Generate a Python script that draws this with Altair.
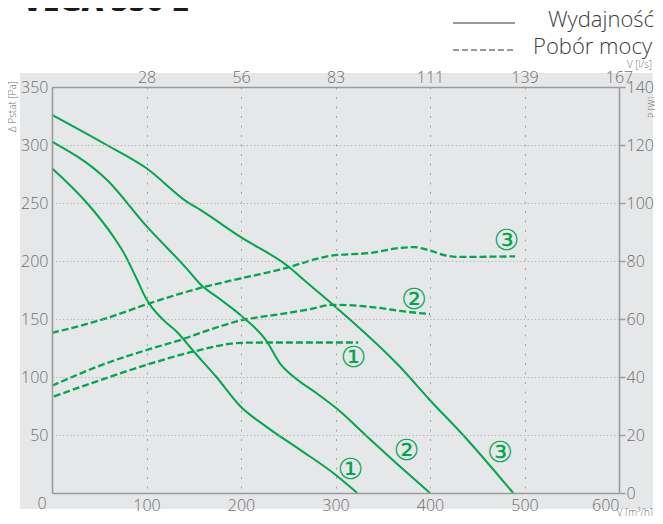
import altair as alt
import pandas as pd

# ---- data ----
# Solid curves: static pressure [Pa] vs airflow [m3/h]
s1_flow = [0, 37, 65, 76, 90, 100, 104, 118, 132, 150, 174, 199, 227, 263, 298, 323]
s1_pst = [280, 250, 221, 207, 184, 167, 162, 149, 139, 122, 100, 75, 57, 37, 17, 0]
s2_flow = [0, 58, 100, 143, 157, 178, 200, 227, 241, 259, 280, 301, 333, 368, 400]
s2_pst = [303, 270, 230, 193, 180, 167, 153, 131, 112, 98, 86, 73, 49, 23, 0]
s3_flow = [0, 58, 100, 143, 157, 199, 252, 266, 295, 368, 400, 435, 488]
s3_pst = [326, 300, 280, 251, 244, 221, 194, 184, 164, 109, 80, 50, 0]
# Dashed curves: power [W] vs airflow [m3/h]
d1_flow = [2, 58, 104, 150, 200, 227, 324]
d1_p = [33.3, 39.7, 44.6, 48.8, 51.8, 51.9, 51.9]
d2_flow = [0, 58, 104, 139, 157, 200, 248, 270, 298, 347, 368, 400]
d2_p = [37, 44.8, 49.7, 53.1, 55.2, 59.5, 62, 63.2, 64.9, 63.8, 62.8, 61.7]
d3_flow = [0, 58, 104, 157, 200, 241, 295, 337, 368, 383, 397, 418, 428, 490]
d3_p = [55.2, 60.3, 65.5, 70.7, 74, 77, 81.8, 82.8, 84.5, 84.8, 83.9, 81.8, 81.4, 81.6]
# Curve labels (placed in Pa coordinates)
lbl_text = ["①", "②", "③", "①", "②", "③"]
lbl_flow = [316, 375, 474, 319, 383, 481]
lbl_pst = [20, 36, 34.5, 116.5, 166.6, 217]
# Axis ticks
x_ticks = [100, 200, 300, 400, 500, 600]
yl_ticks = [50, 100, 150, 200, 250, 300, 350]
yr_ticks = [0, 20, 40, 60, 80, 100, 120, 140]

GREEN = "#00a651"
GRAY = "#9b9b9b"
LBL = "#6e6e6e"
FONT = "Open Sans"

solid = pd.DataFrame(
    [{"flow": f, "pst": p, "curve": "1"} for f, p in zip(s1_flow, s1_pst)]
    + [{"flow": f, "pst": p, "curve": "2"} for f, p in zip(s2_flow, s2_pst)]
    + [{"flow": f, "pst": p, "curve": "3"} for f, p in zip(s3_flow, s3_pst)]
)
dashed = pd.DataFrame(
    [{"flow": f, "p": p, "curve": "1"} for f, p in zip(d1_flow, d1_p)]
    + [{"flow": f, "p": p, "curve": "2"} for f, p in zip(d2_flow, d2_p)]
    + [{"flow": f, "p": p, "curve": "3"} for f, p in zip(d3_flow, d3_p)]
)
labels = pd.DataFrame({"flow": lbl_flow, "pst": lbl_pst, "t": lbl_text})

W, H = 567, 406
xs = alt.Scale(domain=[0, 600], nice=False, zero=True)
ys = alt.Scale(domain=[0, 350], nice=False, zero=True)
ps = alt.Scale(domain=[0, 140], nice=False, zero=True)

one = alt.Data(values=[{"a": 1}])

bg = alt.Chart(one).mark_rect(color="#e6e7e8").encode(
    x=alt.value(-32), x2=alt.value(601), y=alt.value(-14), y2=alt.value(422)
)

ax_common = dict(labelFont=FONT, labelFontWeight=300, labelFontSize=16, labelColor=LBL,
                 domainColor=GRAY, domainWidth=1.6, title=None, zindex=1)

solid_l = alt.Chart(solid).mark_line(color=GREEN, strokeWidth=2, interpolate="monotone").encode(
    x=alt.X("flow:Q", scale=xs, axis=alt.Axis(
        orient="bottom", values=x_ticks, ticks=False, labelPadding=4, labelFlush=True,
        grid=True, gridColor="#a5a5a5", gridDash=[2, 7.5], gridWidth=1, **ax_common)),
    y=alt.Y("pst:Q", scale=ys, axis=alt.Axis(
        orient="left", values=yl_ticks, ticks=False, labelPadding=4,
        grid=True, gridColor="#a5a5a5", gridDash=[1, 2.6], gridWidth=1, **ax_common)),
    detail="curve:N",
)

dashed_l = alt.Chart(dashed).mark_line(color=GREEN, strokeWidth=2.3, strokeDash=[7, 3],
                                       interpolate="monotone").encode(
    x=alt.X("flow:Q", scale=xs, axis=alt.Axis(
        orient="top", values=x_ticks, ticks=False, labelPadding=2, labelFlush=False,
        labelExpr="round(datum.value / 3.6)", grid=False, **ax_common)),
    y=alt.Y("p:Q", scale=ps, axis=alt.Axis(
        orient="right", values=yr_ticks, ticks=True, tickSize=6, tickColor=GRAY, tickWidth=1.5,
        labelPadding=1, grid=False, **ax_common)),
    detail="curve:N",
)

lbl_l = alt.Chart(labels).mark_text(font="DejaVu Sans", fontSize=29, color=GREEN).encode(
    x=alt.X("flow:Q", scale=xs, axis=None),
    y=alt.Y("pst:Q", scale=ys, axis=None),
    text="t:N",
)

zero_l = alt.Chart(alt.Data(values=[{"flow": 0, "pst": 0, "t": "0"}])).mark_text(
    font=FONT, fontWeight=300, fontSize=16, color=LBL, dx=-10, dy=11
).encode(
    x=alt.X("flow:Q", scale=xs, axis=None),
    y=alt.Y("pst:Q", scale=ys, axis=None),
    text="t:N",
)


def txt(s, x, y, size, align="left", angle=0, color=LBL, weight=300, baseline="middle"):
    return alt.Chart(one).mark_text(
        text=s, font=FONT, fontSize=size, fontWeight=weight, color=color,
        align=align, angle=angle, baseline=baseline
    ).encode(x=alt.value(x), y=alt.value(y))


title = txt("VEGA 350 L", -30, -76, 30, weight=800, color="#1a1a1a", baseline="alphabetic")
leg1 = txt("Wydajność", 602, -67.5, 22, align="right", color="#3c3c3c")
leg2 = txt("Pobór mocy", 600, -40.5, 22, align="right", color="#3c3c3c")
ytl = txt("Δ Pstat [Pa]", -39, 45, 10, align="left", angle=270)
ytr = txt("P [W]", 600, 31, 9, align="left", angle=270)
xtt = txt("V [l/s]", 600, -22, 10, align="right")
xtb = txt("V [m³/h]", 601, 426, 10, align="right")

leg_s = alt.Chart(one).mark_rule(color="#333333", strokeWidth=1.2).encode(
    x=alt.value(401), x2=alt.value(463), y=alt.value(-64))
leg_d = alt.Chart(one).mark_rule(color="#333333", strokeWidth=1.2, strokeDash=[6, 3]).encode(
    x=alt.value(401), x2=alt.value(463), y=alt.value(-37))

chart = alt.layer(
    bg, solid_l, dashed_l, lbl_l, zero_l, title, leg1, leg2, ytl, ytr, xtt, xtb, leg_s, leg_d
).resolve_scale(x="independent", y="independent").properties(
    width=W, height=H,
    padding={"left": 44, "top": 79, "right": 36, "bottom": 23},
    autosize=alt.AutoSizeParams(type="none"),
).configure_view(stroke=None).configure(background="white")

chart.save("out.html", embed_options={"renderer": "svg", "actions": False})
